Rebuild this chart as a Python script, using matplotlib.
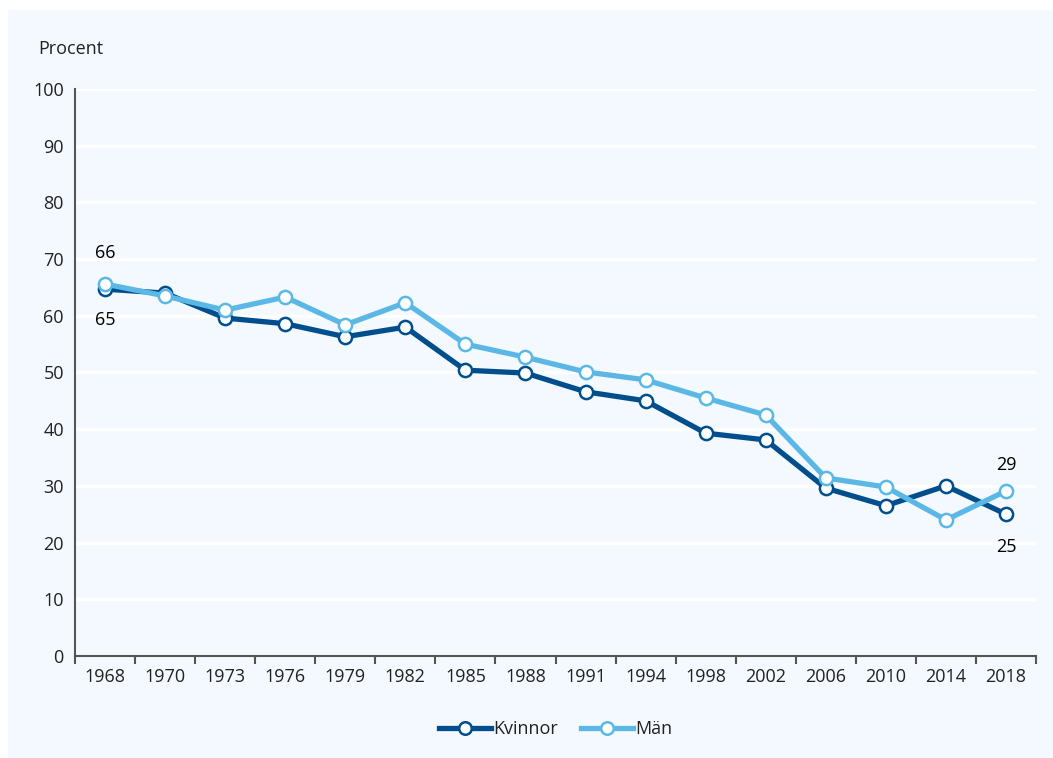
import matplotlib
matplotlib.use('Agg')
from matplotlib import pyplot as plt
from matplotlib.patches import Rectangle

years = ['1968', '1970', '1973', '1976', '1979', '1982', '1985', '1988',
         '1991', '1994', '1998', '2002', '2006', '2010', '2014', '2018']
kvinnor = [64.7, 64.0, 59.6, 58.6, 56.3, 58.0, 50.4, 49.9,
           46.6, 45.0, 39.3, 38.1, 29.6, 26.5, 30.0, 25.0]
man = [65.6, 63.5, 61.0, 63.3, 58.4, 62.3, 55.0, 52.7,
       50.1, 48.7, 45.5, 42.5, 31.4, 29.8, 24.0, 29.1]

dark = '#004f8c'
light = '#5bb8e6'
bg = '#f3f9fe'
txt = '#222222'
fs = 13

plt.rcParams['font.family'] = ['Open Sans', 'DejaVu Sans']

fig = plt.figure(figsize=(10.53, 7.58), dpi=100)
fig.patches.append(Rectangle((8 / 1053, 0), 1, 1 - 10 / 758, transform=fig.transFigure,
                             facecolor=bg, edgecolor='none', zorder=-10))
ax = fig.add_axes([0.0712, 0.1346, 0.9127, 0.748])
ax.set_facecolor('none')

x = list(range(len(years)))

# Gridlines
for v in range(10, 101, 10):
    ax.axhline(v, color='white', lw=2.5, zorder=1)

ax.plot(x, kvinnor, color=dark, lw=3.8, marker='o', ms=9.5, mfc='white',
        mec=dark, mew=1.8, label='Kvinnor', zorder=3, clip_on=False)
ax.plot(x, man, color=light, lw=3.8, marker='o', ms=9.5, mfc='white',
        mec=light, mew=1.8, label='Män', zorder=4, clip_on=False)

# Value labels
ax.annotate('66', (x[0], man[0]), xytext=(0, 16), textcoords='offset points',
            ha='center', va='bottom', fontsize=fs, color='black')
ax.annotate('65', (x[0], kvinnor[0]), xytext=(0, -16), textcoords='offset points',
            ha='center', va='top', fontsize=fs, color='black')
ax.annotate('29', (x[-1], man[-1]), xytext=(0, 12), textcoords='offset points',
            ha='center', va='bottom', fontsize=fs, color='black')
ax.annotate('25', (x[-1], kvinnor[-1]), xytext=(0, -17), textcoords='offset points',
            ha='center', va='top', fontsize=fs, color='black')

ax.set_xlim(-0.5, len(years) - 0.5)
ax.set_ylim(0, 100)
ax.set_yticks(range(0, 101, 10))
ax.tick_params(axis='y', length=0, labelsize=fs, labelcolor=txt, pad=8)
ax.set_xticks(x)
ax.set_xticklabels(years)
ax.tick_params(axis='x', length=0, labelsize=fs, labelcolor=txt, pad=9)
ax.set_xticks([i - 0.5 for i in range(len(years) + 1)], minor=True)
ax.tick_params(axis='x', which='minor', length=6, width=1.5, color='#555555')

for s in ['top', 'right']:
    ax.spines[s].set_visible(False)
for s in ['left', 'bottom']:
    ax.spines[s].set_color('#555555')
    ax.spines[s].set_linewidth(1.5)

fig.text(38 / 1053, 1 - 49 / 758, 'Procent', fontsize=fs, color=txt,
         ha='left', va='center')

leg = ax.legend(loc='upper center', bbox_to_anchor=(0.5, -0.085), ncol=2,
                frameon=False, fontsize=fs, handlelength=2.9, columnspacing=1.3,
                handletextpad=0.1, markerscale=0.95)
for t in leg.get_texts():
    t.set_color(txt)

plt.savefig('out.png', dpi=100)
plt.close()
